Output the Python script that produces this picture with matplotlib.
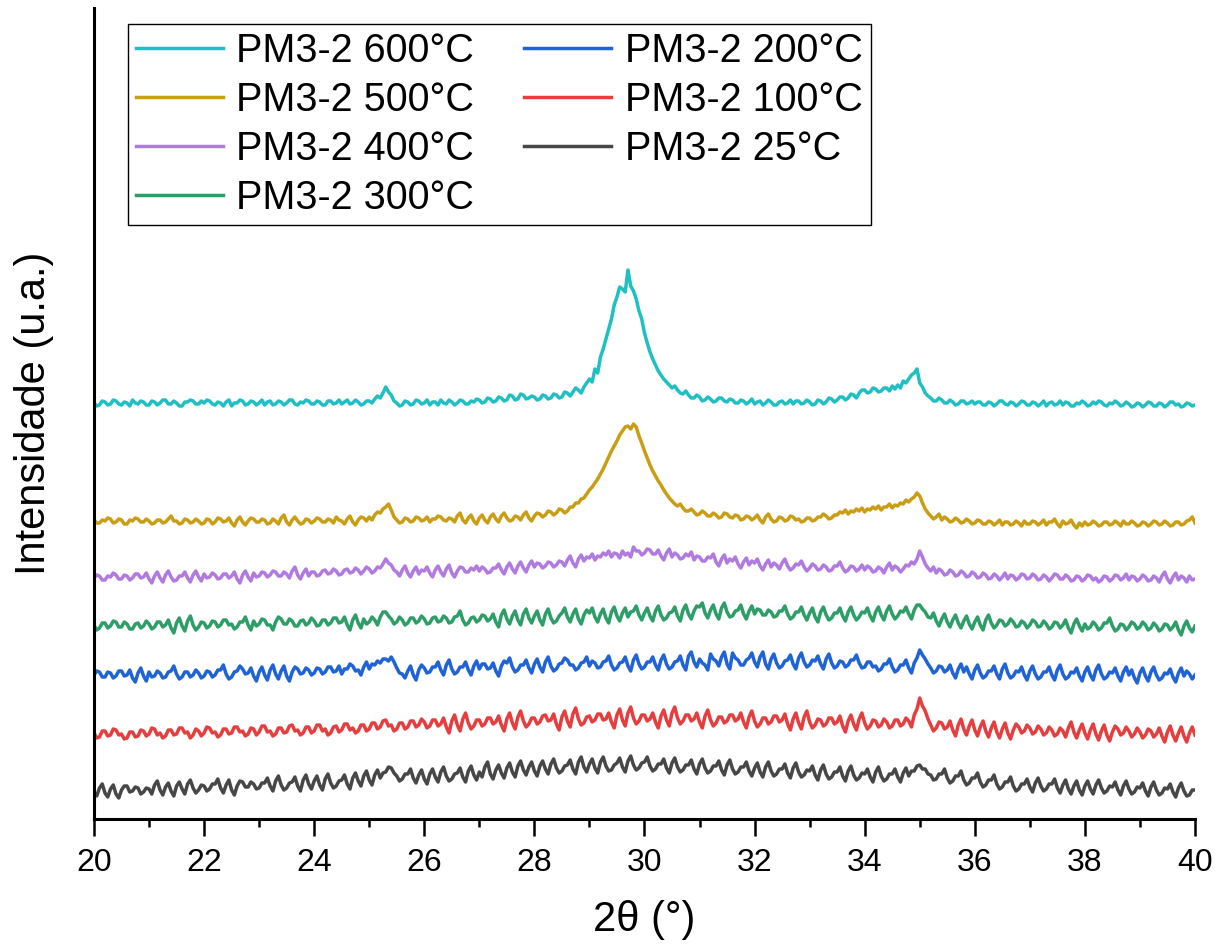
import numpy as np
from matplotlib import pyplot as plt
from matplotlib.ticker import MultipleLocator

plt.rcParams['font.family'] = ['Liberation Sans', 'DejaVu Sans']

# 2theta grid, 0.05 deg step (20.00 ... 40.00)
two_theta = np.round(np.arange(400, 801) * 0.05, 2)

# stacked intensities (a.u.), 20 readings per degree, last one at 40.00
pm_600 = [
    416, 413, 414, 418, 417, 414, 415, 419, 418, 415, 414, 417, 416, 413, 419, 416, 415, 418, 417, 414,
    414, 418, 417, 414, 416, 419, 419, 415, 415, 418, 416, 413, 413, 417, 417, 419, 418, 415, 415, 418,
    416, 419, 418, 415, 414, 417, 416, 413, 417, 419, 413, 416, 416, 419, 418, 414, 415, 418, 417, 414,
    416, 419, 414, 417, 418, 414, 415, 418, 417, 414, 416, 419, 419, 415, 414, 417, 416, 419, 418, 415,
    415, 418, 417, 414, 414, 418, 418, 415, 416, 419, 415, 417, 419, 415, 416, 419, 417, 414, 415, 418,
    418, 416, 420, 423, 421, 426, 432, 427, 424, 418, 416, 413, 414, 418, 417, 414, 415, 419, 418, 415,
    416, 419, 414, 417, 417, 414, 419, 416, 415, 419, 417, 414, 416, 419, 418, 415, 415, 418, 417, 420,
    419, 416, 417, 421, 420, 417, 418, 422, 421, 418, 419, 424, 423, 419, 420, 425, 424, 420, 421, 423,
    422, 419, 420, 424, 423, 420, 421, 425, 424, 421, 422, 427, 426, 423, 427, 431, 429, 426, 432, 436,
    440, 437, 450, 446, 462, 470, 480, 490, 500, 514, 522, 532, 530, 527, 549, 533, 528, 520, 508, 500,
    486, 476, 467, 460, 454, 448, 444, 440, 437, 434, 431, 433, 429, 426, 425, 428, 424, 421, 421, 424,
    422, 418, 419, 422, 420, 417, 418, 421, 421, 418, 417, 420, 419, 416, 416, 419, 418, 415, 417, 420,
    415, 417, 418, 414, 416, 419, 417, 414, 414, 417, 418, 415, 416, 419, 415, 418, 418, 415, 416, 419,
    417, 414, 415, 419, 418, 415, 417, 421, 420, 417, 419, 422, 422, 419, 421, 425, 424, 421, 426, 429,
    429, 426, 427, 431, 430, 427, 428, 431, 431, 428, 433, 430, 434, 431, 438, 436, 440, 444, 446, 450,
    436, 432, 426, 423, 421, 418, 418, 421, 419, 416, 416, 419, 417, 414, 415, 418, 418, 415, 416, 418,
    415, 417, 417, 414, 414, 417, 416, 413, 415, 418, 418, 415, 414, 417, 416, 413, 415, 418, 417, 414,
    414, 417, 416, 413, 415, 418, 413, 416, 417, 414, 415, 418, 414, 417, 416, 413, 413, 416, 415, 418,
    416, 413, 414, 417, 415, 418, 417, 414, 413, 416, 415, 418, 416, 413, 414, 417, 415, 412, 413, 416,
    415, 412, 414, 417, 416, 413, 413, 416, 415, 412, 414, 417, 417, 414, 415, 412, 413, 416, 415, 413,
    414,
]
pm_500 = [
    299, 296, 296, 299, 298, 301, 300, 296, 297, 300, 299, 295, 295, 299, 298, 301, 300, 297, 297, 300,
    298, 295, 296, 299, 299, 296, 297, 300, 303, 298, 298, 295, 296, 300, 299, 296, 297, 300, 298, 295,
    296, 300, 299, 295, 297, 301, 300, 297, 298, 301, 296, 293, 299, 302, 297, 294, 298, 301, 300, 297,
    297, 300, 299, 295, 296, 300, 298, 295, 301, 304, 297, 294, 299, 302, 298, 295, 296, 300, 299, 296,
    298, 301, 300, 297, 297, 300, 299, 296, 302, 299, 298, 295, 300, 303, 297, 294, 299, 302, 301, 298,
    302, 299, 304, 307, 306, 310, 312, 315, 309, 302, 299, 296, 297, 301, 300, 297, 298, 302, 301, 298,
    299, 302, 297, 300, 300, 303, 302, 299, 298, 301, 300, 297, 303, 306, 299, 296, 301, 304, 298, 295,
    301, 304, 299, 296, 302, 305, 300, 297, 303, 306, 301, 298, 299, 303, 302, 299, 304, 307, 301, 298,
    303, 306, 305, 302, 304, 308, 307, 304, 306, 310, 309, 306, 308, 312, 312, 316, 316, 320, 321, 325,
    329, 332, 336, 340, 345, 350, 356, 362, 368, 373, 378, 384, 388, 392, 393, 390, 395, 392, 383, 376,
    368, 361, 354, 348, 343, 338, 334, 329, 325, 321, 318, 315, 313, 315, 311, 308, 308, 310, 307, 304,
    305, 308, 306, 303, 303, 306, 304, 301, 302, 306, 305, 302, 301, 304, 303, 299, 300, 303, 302, 299,
    301, 304, 299, 296, 302, 305, 300, 297, 298, 302, 301, 298, 299, 303, 302, 299, 300, 297, 298, 301,
    301, 298, 299, 302, 302, 305, 303, 300, 301, 304, 304, 307, 306, 309, 305, 308, 307, 310, 308, 311,
    307, 310, 309, 312, 310, 313, 309, 312, 312, 315, 311, 314, 313, 316, 315, 319, 317, 320, 322, 326,
    323, 316, 310, 306, 303, 300, 302, 305, 299, 302, 300, 297, 298, 301, 299, 296, 297, 300, 298, 295,
    296, 299, 298, 295, 295, 298, 297, 294, 296, 299, 294, 297, 297, 294, 295, 298, 296, 293, 298, 295,
    295, 298, 297, 294, 296, 299, 294, 297, 297, 300, 295, 292, 298, 295, 296, 299, 294, 291, 296, 293,
    297, 294, 295, 298, 296, 293, 294, 297, 297, 294, 295, 298, 296, 293, 298, 295, 295, 298, 296, 293,
    294, 297, 296, 293, 295, 298, 297, 294, 295, 298, 296, 293, 294, 297, 297, 294, 295, 298, 299, 302,
    296,
]
pm_400 = [
    241, 244, 243, 239, 239, 243, 242, 246, 244, 240, 240, 244, 243, 239, 241, 245, 245, 241, 242, 246,
    240, 236, 243, 247, 241, 237, 244, 248, 242, 238, 239, 243, 243, 247, 241, 237, 244, 248, 242, 238,
    245, 241, 242, 246, 244, 240, 241, 245, 245, 241, 243, 247, 240, 236, 244, 248, 242, 238, 246, 242,
    243, 247, 246, 242, 244, 248, 247, 243, 243, 247, 245, 241, 248, 252, 244, 240, 246, 250, 243, 247,
    247, 243, 244, 248, 249, 245, 246, 250, 248, 244, 245, 249, 250, 246, 247, 251, 249, 245, 248, 252,
    250, 246, 248, 252, 251, 255, 260, 256, 254, 249, 247, 243, 249, 253, 246, 242, 248, 252, 245, 249,
    248, 252, 246, 242, 249, 253, 247, 243, 250, 254, 246, 242, 248, 252, 251, 247, 247, 251, 249, 253,
    248, 252, 250, 246, 247, 251, 251, 255, 249, 245, 252, 256, 250, 246, 253, 257, 251, 247, 254, 258,
    252, 256, 255, 251, 253, 257, 256, 252, 254, 258, 257, 253, 259, 263, 256, 252, 260, 264, 258, 262,
    261, 265, 259, 263, 262, 266, 264, 268, 262, 266, 265, 261, 268, 264, 266, 262, 272, 268, 268, 264,
    266, 270, 269, 265, 265, 269, 263, 259, 266, 270, 262, 266, 264, 260, 261, 265, 263, 267, 259, 263,
    262, 258, 258, 262, 261, 265, 257, 253, 260, 264, 256, 260, 258, 262, 255, 251, 257, 261, 254, 258,
    256, 260, 253, 249, 255, 259, 252, 256, 254, 250, 256, 260, 253, 249, 251, 255, 254, 258, 252, 248,
    251, 255, 253, 249, 250, 254, 252, 248, 249, 253, 253, 257, 251, 247, 249, 253, 252, 248, 250, 254,
    249, 253, 251, 247, 248, 252, 250, 246, 252, 256, 249, 253, 251, 247, 250, 254, 253, 257, 255, 260,
    268, 262, 255, 251, 248, 252, 246, 250, 248, 244, 245, 249, 247, 243, 244, 248, 246, 242, 243, 247,
    245, 241, 242, 246, 244, 240, 241, 245, 243, 239, 242, 246, 240, 244, 243, 239, 241, 245, 244, 240,
    241, 245, 243, 239, 240, 244, 242, 238, 241, 245, 244, 240, 240, 244, 242, 238, 239, 243, 242, 238,
    240, 244, 243, 239, 241, 237, 239, 243, 242, 238, 240, 244, 243, 239, 241, 245, 239, 243, 242, 238,
    240, 244, 242, 238, 239, 243, 241, 237, 243, 247, 240, 236, 242, 246, 239, 243, 241, 237, 243, 239,
    240,
]
pm_300 = [
    194, 189, 191, 196, 196, 191, 193, 198, 197, 192, 192, 197, 195, 190, 190, 195, 196, 191, 193, 198,
    195, 190, 192, 197, 197, 192, 194, 199, 191, 186, 196, 201, 193, 188, 198, 203, 194, 189, 192, 197,
    196, 191, 193, 198, 197, 192, 194, 199, 199, 194, 195, 190, 192, 197, 197, 202, 194, 189, 198, 193,
    195, 200, 199, 194, 194, 189, 197, 202, 200, 195, 195, 200, 198, 193, 193, 198, 199, 194, 196, 201,
    198, 193, 194, 199, 199, 194, 196, 201, 201, 196, 197, 202, 194, 189, 199, 204, 196, 191, 200, 195,
    197, 202, 199, 194, 202, 207, 207, 203, 200, 195, 197, 202, 199, 194, 196, 201, 201, 196, 198, 203,
    200, 195, 196, 201, 202, 197, 198, 203, 201, 196, 197, 202, 203, 208, 199, 194, 196, 201, 202, 197,
    199, 204, 203, 198, 200, 205, 197, 192, 204, 209, 200, 195, 203, 208, 199, 194, 205, 210, 201, 196,
    203, 208, 199, 194, 205, 210, 201, 196, 198, 203, 206, 211, 202, 197, 205, 210, 200, 195, 204, 209,
    206, 211, 202, 197, 205, 210, 201, 196, 207, 212, 203, 198, 206, 211, 202, 207, 208, 213, 204, 199,
    206, 211, 203, 198, 208, 213, 204, 199, 201, 206, 207, 212, 203, 198, 209, 214, 205, 200, 208, 213,
    212, 216, 206, 201, 209, 214, 205, 200, 211, 216, 207, 202, 203, 208, 209, 214, 205, 200, 208, 213,
    205, 210, 209, 204, 204, 209, 207, 202, 203, 208, 208, 213, 205, 200, 202, 207, 207, 212, 204, 199,
    206, 211, 202, 197, 207, 212, 204, 199, 201, 206, 206, 211, 203, 198, 207, 212, 204, 199, 202, 207,
    206, 211, 203, 198, 207, 212, 204, 199, 208, 213, 205, 200, 203, 208, 207, 212, 205, 200, 209, 214,
    214, 210, 207, 202, 201, 206, 198, 193, 200, 205, 197, 192, 199, 204, 196, 191, 198, 203, 195, 190,
    197, 202, 194, 189, 199, 204, 196, 191, 194, 199, 198, 193, 195, 200, 197, 192, 193, 198, 196, 191,
    194, 199, 197, 192, 193, 198, 195, 190, 192, 197, 196, 191, 194, 199, 191, 186, 195, 200, 193, 188,
    195, 190, 192, 197, 194, 189, 191, 196, 196, 201, 193, 188, 190, 195, 194, 189, 192, 197, 195, 190,
    192, 197, 194, 189, 191, 196, 193, 188, 190, 195, 194, 189, 192, 197, 189, 184, 193, 198, 191, 187,
    193,
]
pm_200 = [
    144, 148, 147, 142, 142, 147, 146, 141, 143, 148, 148, 143, 144, 149, 141, 137, 146, 151, 143, 138,
    147, 142, 143, 148, 146, 141, 142, 147, 148, 153, 145, 140, 142, 147, 147, 142, 144, 149, 146, 141,
    143, 148, 147, 142, 144, 149, 149, 154, 145, 140, 142, 147, 148, 153, 150, 145, 146, 151, 143, 138,
    147, 152, 144, 139, 149, 154, 145, 140, 148, 153, 143, 138, 147, 152, 150, 145, 146, 151, 149, 144,
    146, 151, 150, 145, 147, 152, 152, 147, 148, 153, 145, 150, 150, 155, 153, 148, 149, 144, 152, 157,
    150, 155, 154, 158, 156, 160, 160, 158, 162, 157, 151, 146, 145, 141, 148, 153, 144, 139, 149, 154,
    151, 146, 147, 152, 152, 157, 149, 144, 154, 159, 150, 145, 147, 152, 152, 157, 149, 144, 153, 158,
    150, 155, 155, 150, 151, 156, 148, 143, 153, 158, 156, 161, 152, 147, 149, 154, 154, 159, 151, 146,
    155, 160, 152, 147, 157, 162, 153, 148, 150, 155, 156, 161, 159, 154, 154, 149, 151, 156, 157, 162,
    153, 158, 156, 151, 152, 157, 158, 163, 154, 149, 151, 156, 157, 162, 153, 148, 159, 164, 155, 150,
    152, 157, 157, 162, 154, 149, 159, 164, 155, 150, 152, 157, 158, 163, 154, 149, 163, 167, 157, 152,
    160, 156, 154, 149, 165, 160, 158, 153, 162, 167, 155, 150, 166, 161, 159, 154, 154, 159, 161, 166,
    157, 152, 162, 167, 155, 150, 160, 165, 156, 151, 153, 158, 159, 164, 155, 150, 161, 166, 157, 152,
    154, 159, 158, 163, 155, 150, 160, 165, 156, 151, 153, 158, 157, 152, 154, 159, 159, 164, 156, 151,
    152, 157, 157, 152, 153, 148, 150, 155, 155, 160, 152, 147, 149, 154, 154, 159, 151, 146, 156, 161,
    169, 164, 160, 155, 151, 146, 148, 153, 152, 147, 149, 154, 146, 141, 150, 155, 147, 152, 145, 140,
    149, 154, 146, 141, 143, 148, 148, 153, 145, 140, 150, 155, 146, 141, 143, 148, 147, 152, 144, 139,
    148, 153, 145, 140, 142, 147, 147, 152, 144, 139, 149, 154, 145, 140, 142, 147, 146, 151, 143, 138,
    147, 152, 144, 139, 149, 154, 145, 140, 142, 147, 146, 151, 143, 138, 147, 152, 144, 149, 141, 136,
    146, 151, 143, 138, 147, 152, 144, 139, 141, 146, 145, 150, 142, 137, 146, 151, 143, 148, 145, 140,
    144,
]
pm_100 = [
    86, 81, 82, 88, 88, 83, 84, 90, 89, 84, 85, 80, 81, 87, 87, 82, 83, 89, 88, 83,
    85, 91, 90, 84, 86, 81, 83, 89, 89, 84, 85, 91, 91, 86, 87, 81, 84, 90, 88, 83,
    86, 92, 91, 86, 87, 82, 84, 90, 90, 85, 86, 92, 92, 87, 88, 83, 85, 91, 90, 84,
    87, 93, 93, 87, 88, 83, 85, 91, 91, 86, 87, 93, 94, 88, 89, 84, 86, 92, 92, 86,
    88, 94, 94, 88, 90, 84, 86, 92, 93, 87, 89, 95, 95, 89, 91, 86, 88, 94, 94, 88,
    90, 96, 96, 90, 92, 98, 99, 93, 94, 88, 90, 96, 96, 90, 92, 98, 98, 92, 94, 100,
    97, 91, 93, 99, 99, 93, 95, 101, 92, 86, 98, 104, 94, 88, 100, 106, 96, 90, 93, 99,
    99, 93, 95, 101, 101, 95, 97, 103, 94, 88, 100, 106, 96, 90, 102, 108, 98, 92, 95, 101,
    101, 95, 97, 103, 104, 98, 99, 105, 95, 89, 102, 108, 98, 92, 105, 111, 100, 94, 96, 102,
    103, 97, 99, 105, 105, 99, 100, 106, 97, 91, 104, 110, 99, 93, 106, 112, 101, 95, 98, 104,
    104, 98, 100, 106, 97, 91, 103, 109, 99, 93, 106, 112, 101, 95, 98, 104, 104, 98, 100, 106,
    97, 91, 103, 109, 99, 93, 96, 102, 102, 96, 98, 104, 104, 98, 100, 106, 97, 91, 102, 108,
    98, 92, 95, 101, 101, 95, 97, 103, 103, 97, 99, 105, 95, 89, 100, 106, 96, 90, 102, 108,
    97, 91, 94, 100, 99, 93, 95, 101, 101, 95, 97, 103, 93, 87, 98, 104, 95, 89, 100, 106,
    96, 90, 93, 99, 98, 92, 94, 100, 97, 91, 93, 99, 99, 93, 95, 101, 98, 92, 104, 110,
    121, 113, 108, 100, 94, 88, 91, 97, 96, 90, 92, 98, 89, 83, 94, 100, 90, 84, 93, 99,
    89, 83, 92, 98, 88, 82, 91, 97, 87, 81, 90, 96, 86, 80, 89, 95, 92, 86, 88, 94,
    91, 85, 87, 93, 90, 84, 86, 92, 89, 83, 85, 91, 88, 82, 91, 97, 87, 81, 89, 95,
    86, 80, 89, 95, 85, 79, 88, 94, 84, 78, 87, 93, 90, 84, 86, 92, 88, 82, 85, 91,
    87, 81, 84, 90, 88, 82, 85, 91, 83, 77, 87, 93, 84, 78, 86, 92, 83, 77, 86, 92,
    84,
]
pm_25 = [
    27, 23, 31, 35, 26, 22, 30, 34, 25, 21, 29, 33, 33, 27, 28, 32, 31, 25, 27, 31,
    30, 25, 34, 38, 29, 24, 32, 36, 28, 23, 33, 37, 30, 25, 35, 39, 31, 26, 29, 34,
    33, 28, 30, 35, 35, 40, 31, 26, 34, 39, 29, 24, 33, 38, 37, 32, 32, 37, 35, 30,
    31, 36, 36, 41, 33, 28, 38, 43, 34, 29, 31, 36, 37, 42, 33, 28, 39, 44, 35, 30,
    38, 43, 34, 29, 40, 45, 36, 31, 33, 38, 39, 44, 35, 30, 41, 46, 38, 33, 43, 48,
    39, 34, 44, 49, 41, 46, 47, 52, 51, 46, 43, 38, 40, 45, 45, 50, 41, 36, 44, 49,
    40, 35, 45, 50, 42, 37, 47, 52, 43, 38, 40, 45, 46, 51, 42, 37, 48, 53, 44, 39,
    47, 42, 52, 57, 45, 40, 49, 54, 46, 41, 51, 56, 47, 42, 53, 58, 49, 44, 52, 57,
    48, 43, 53, 58, 50, 45, 55, 60, 51, 46, 48, 53, 54, 59, 50, 45, 57, 62, 52, 47,
    55, 60, 51, 46, 57, 62, 53, 48, 49, 54, 56, 61, 52, 47, 58, 63, 54, 49, 51, 56,
    57, 62, 53, 48, 50, 55, 55, 60, 51, 46, 56, 61, 52, 47, 49, 54, 54, 59, 50, 45,
    55, 60, 51, 46, 48, 53, 53, 58, 49, 44, 54, 59, 50, 45, 47, 52, 52, 57, 48, 43,
    51, 56, 47, 42, 52, 57, 48, 43, 45, 50, 50, 55, 46, 41, 51, 56, 47, 42, 44, 49,
    48, 53, 44, 39, 49, 54, 45, 40, 42, 47, 47, 52, 43, 38, 48, 53, 44, 39, 41, 46,
    45, 50, 42, 37, 47, 52, 43, 38, 40, 45, 45, 50, 42, 37, 46, 51, 43, 48, 48, 53,
    54, 50, 50, 45, 44, 39, 40, 45, 45, 50, 41, 36, 38, 43, 43, 48, 39, 34, 36, 41,
    41, 46, 37, 32, 34, 39, 39, 44, 35, 30, 32, 37, 37, 42, 33, 28, 30, 35, 35, 40,
    32, 27, 36, 41, 33, 28, 30, 35, 35, 40, 31, 26, 34, 39, 30, 25, 33, 38, 29, 24,
    33, 38, 30, 25, 34, 39, 31, 26, 28, 33, 32, 37, 29, 24, 33, 38, 30, 25, 27, 32,
    31, 36, 28, 23, 32, 37, 29, 24, 26, 31, 30, 35, 27, 22, 31, 36, 28, 23, 24, 29,
    29,
]

labels = ['PM3-2 600°C', 'PM3-2 500°C', 'PM3-2 400°C', 'PM3-2 300°C',
          'PM3-2 200°C', 'PM3-2 100°C', 'PM3-2 25°C']
series = [pm_600, pm_500, pm_400, pm_300, pm_200, pm_100, pm_25]
colors = ['#1fbfc4', '#c99d14', '#b07ae0', '#2e9e69', '#1f63d6', '#e63e3e', '#474747']

fig = plt.figure(figsize=(12.27, 9.51), dpi=100)
ax = fig.add_axes([0.0766, 0.1388, 0.8973, 0.8528])

for y, c, lab in zip(series, colors, labels):
    ax.plot(two_theta, y, color=c, lw=2.5, label=lab)

ax.set_xlim(20, 40)
ax.set_ylim(0, 811)
ax.xaxis.set_major_locator(MultipleLocator(2))
ax.xaxis.set_minor_locator(MultipleLocator(1))
ax.set_yticks([])
ax.spines['top'].set_visible(False)
ax.spines['right'].set_visible(False)
ax.spines['left'].set_linewidth(2.2)
ax.spines['bottom'].set_linewidth(2.2)
ax.tick_params(axis='x', which='major', direction='out', length=12, width=1.8,
               labelsize=23, pad=9)
ax.tick_params(axis='x', which='minor', direction='out', length=6, width=1.8)

ax.set_xlabel('2θ (°)', fontsize=30, labelpad=16)
ax.set_ylabel('Intensidade (u.a.)', fontsize=30, labelpad=29)

leg = ax.legend(ncol=2, loc='upper left', bbox_to_anchor=(0.104, 0.975),
                bbox_transform=fig.transFigure, borderaxespad=0,
                fontsize=28.5, fancybox=False, edgecolor='black',
                framealpha=1, handlelength=2.2, handletextpad=0.35,
                columnspacing=1.25, labelspacing=0.28, borderpad=0.2)
leg.get_frame().set_linewidth(1.0)

plt.savefig('out.png', dpi=100)
